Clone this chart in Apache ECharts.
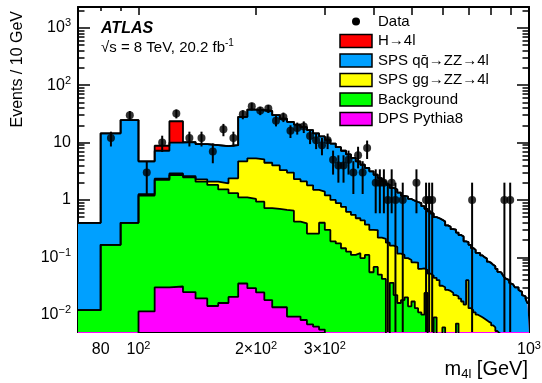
<!DOCTYPE html>
<html>
<head>
<meta charset="utf-8">
<script src="https://cdn.jsdelivr.net/npm/echarts@6/dist/echarts.min.js"></script>
<style>
  html, body { margin: 0; padding: 0; background: #fff; }
  #container { width: 542px; height: 383px; }
</style>
</head>
<body>
<div id="container"></div>
<script>
// m4l histogram, 10 GeV bins from 70 to 1000 GeV
var binStart = 70, binWidth = 10, nBins = 93;

var dps = [
  0, 0, 0, 0.0114, 0.030, 0.031, 0.0248, 0.0192, 0.0142, 0.016,
  0.0204, 0.035, 0.029, 0.0245, 0.018, 0.0135, 0.0135, 0.0093, 0.0093, 0.0081,
  0.0068, 0.0062, 0.0055, 0, 0, 0, 0, 0, 0, 0,
  0, 0, 0, 0, 0, 0, 0, 0, 0, 0,
  0, 0, 0, 0, 0, 0, 0, 0, 0, 0,
  0, 0, 0, 0, 0, 0, 0, 0, 0, 0,
  0, 0, 0, 0, 0, 0, 0, 0, 0, 0,
  0, 0, 0, 0, 0, 0, 0, 0, 0, 0,
  0, 0, 0, 0, 0, 0, 0, 0, 0, 0,
  0, 0, 0
];
var background = [
  0.012, 0.165, 0.40, 1.18, 2.20, 2.69, 2.46, 2.06, 1.81, 1.51,
  1.29, 1.075, 1.01, 0.91, 0.70, 0.687, 0.657, 0.641, 0.411, 0.382,
  0.253, 0.254, 0.395, 0.30, 0.19, 0.175, 0.144, 0.126, 0.11, 0.118,
  0.097, 0.11, 0.055, 0.068, 0.05, 0.042, 0.004, 0.036, 0.022, 0.016,
  0.018, 0.020, 0.014, 0.017, 0.013, 0.011, 0.010, 0.024, 0.003, 0.002,
  0.009, 0.002, 0, 0.006, 0, 0, 0, 0, 0.007, 0,
  0, 0, 0, 0, 0, 0, 0, 0, 0, 0,
  0, 0, 0, 0, 0, 0, 0, 0, 0, 0,
  0, 0, 0, 0, 0, 0, 0, 0, 0, 0,
  0, 0, 0
];
var ggZZ = [
  0, 0, 0, 0.07, 0.12, 0.18, 0.12, 0.21, 0.26, 0.42,
  1.07, 3.59, 4.26, 4.17, 3.73, 3.30, 2.63, 2.35, 1.88, 1.71,
  1.54, 1.24, 1.00, 0.90, 0.81, 0.705, 0.616, 0.494, 0.44, 0.362,
  0.343, 0.26, 0.245, 0.23, 0.17, 0.168, 0.176, 0.124, 0.13, 0.10,
  0.092, 0.077, 0.076, 0.065, 0.068, 0.052, 0.054, 0.036, 0.049, 0.046,
  0.035, 0.038, 0.032, 0.024, 0.027, 0.026, 0.024, 0.022, 0.014, 0.019,
  0.017, 0.015, 0.04, 0.013, 0.012, 0.011, 0.010, 0.0095, 0.009, 0.0085,
  0.008, 0.0075, 0.0072, 0.0065, 0.006, 0.0052, 0.0048, 0.0045, 0.004, 0.0038,
  0.0035, 0.0033, 0.003, 0.003, 0.0028, 0.0027, 0.0025, 0.0024, 0.0022, 0.002,
  0.0019, 0.0018, 0.0016
];
var qqZZ = [
  0.388, 14.3, 24.2, 3.44, 4.85, 7.10, 7.60, 7.11, 6.97, 6.75,
  6.62, 23.4, 32.2, 31.4, 31.0, 26.0, 22.7, 20.0, 18.2, 16.4,
  14.7, 13.0, 11.4, 10.0, 8.6, 7.42, 6.44, 5.58, 4.85, 4.22,
  3.66, 3.23, 2.85, 2.45, 2.18, 1.89, 1.67, 1.46, 1.37, 1.23,
  1.07, 1.04, 0.95, 0.888, 0.839, 0.817, 0.716, 0.64, 0.578, 0.532,
  0.456, 0.44, 0.418, 0.39, 0.333, 0.314, 0.286, 0.283, 0.249, 0.226,
  0.213, 0.175, 0.145, 0.152, 0.133, 0.124, 0.11, 0.1085, 0.099, 0.0915,
  0.087, 0.0765, 0.0728, 0.0675, 0.064, 0.0578, 0.0512, 0.0495, 0.046, 0.0432,
  0.0395, 0.0367, 0.033, 0.031, 0.0292, 0.0273, 0.0275, 0.0246, 0.0228, 0.02,
  0.0191, 0.0172, 0.0144
];
var higgs = [
  0, 0, 0, 0, 1.6, 13.5, 0, 0, 0, 0,
  0, 0, 0, 0, 0, 0, 0, 0, 0, 0,
  0, 0, 0, 0, 0, 0, 0, 0, 0, 0,
  0, 0, 0, 0, 0, 0, 0, 0, 0, 0,
  0, 0, 0, 0, 0, 0, 0, 0, 0, 0,
  0, 0, 0, 0, 0, 0, 0, 0, 0, 0,
  0, 0, 0, 0, 0, 0, 0, 0, 0, 0,
  0, 0, 0, 0, 0, 0, 0, 0, 0, 0,
  0, 0, 0, 0, 0, 0, 0, 0, 0, 0,
  0, 0, 0
];
var dataCounts = [
  0, 12, 30, 3, 10, 32, 12, 12, 7, 17,
  12, 31, 43, 36, 39, 24, 28, 16, 18, 19,
  13, 11, 9, 11, 5, 4, 4, 5, 3, 6,
  3, 8, 0, 2, 2, 2, 1, 2, 1, 0,
  1, 0, 0, 0, 2, 0, 0, 1, 1, 1,
  0, 0, 0, 0, 0, 0, 0, 0, 0, 0,
  0, 0, 0, 0, 1, 0, 0, 0, 0, 0,
  0, 0, 0, 0, 0, 0, 0, 0, 0, 1,
  0, 0, 1, 0, 0, 0, 0, 0, 0, 0,
  0, 0, 0
];

var xTickValues = [80, 100, 200, 300, 1000];
var xTickLabels = ['80', '10^2', '2\u00d710^2', '3\u00d710^2', '10^3'];
var yTickValues = [0.01, 0.1, 1, 10, 100, 1000];
var yTickLabels = ['10^\u22122', '10^\u22121', '1', '10', '10^2', '10^3'];

// stack order bottom -> top, same as the legend read upwards
var stackNames = ['DPS Pythia8', 'Background', 'SPS gg\u2192ZZ\u21924l', 'SPS qq\u0304\u2192ZZ\u21924l', 'H\u21924l'];
var stackColors = ['#ff00ff', '#00ff00', '#ffff00', '#00a0ff', '#ff0000'];
var stackValues = [dps, background, ggZZ, qqZZ, higgs];

var xMin = 70, xMax = 1000, yMin = 0.005, yMax = 2300;
var font = '"Liberation Sans", Arial, Helvetica, sans-serif';

var dom = document.getElementById('container');
var myChart = echarts.init(dom, null, { renderer: 'canvas' });

var binLow = [];
for (var i = 0; i < nBins; i++) binLow.push(binStart + i * binWidth);

// cumulative step outline for the first k+1 components
function stepData(k) {
  var pts = [];
  var last = 0;
  for (var i = 0; i < nBins; i++) {
    var s = 0;
    for (var j = 0; j <= k; j++) s += stackValues[j][i];
    last = Math.max(s, yMin * 0.5);
    pts.push([binLow[i], last]);
  }
  pts.push([binLow[nBins - 1] + binWidth, last]);
  return pts;
}

function supRich(str) {
  return str.replace(/\^(.+)$/, '{s|$1}');
}
function findLabel(vals, labels, v) {
  for (var i = 0; i < vals.length; i++) {
    if (Math.abs(Math.log10(vals[i]) - Math.log10(v)) < 1e-6) return supRich(labels[i]);
  }
  return '';
}

var labelRich = {
  s: { fontSize: 11, fontFamily: font, color: '#000', lineHeight: 10, verticalAlign: 'top' }
};

var xMajor = [100, 200, 300, 400, 500, 600, 700, 800, 900, 1000];
var xMinor = [80, 90];
var yMajor = yTickValues.slice();
var yMinor = [];
for (var d = -3; d <= 3; d++) {
  for (var m = 2; m <= 9; m++) {
    var v = m * Math.pow(10, d);
    if (v > yMin && v < yMax) yMinor.push(+v.toPrecision(3));
  }
}

function xAx(pos, ticks, len, showLine, showLabel) {
  return {
    type: 'log', logBase: 10, min: xMin, max: xMax, position: pos,
    axisLine: { show: showLine, onZero: false, lineStyle: { color: '#000', width: 2 } },
    axisTick: { show: true, inside: true, length: len, customValues: ticks, lineStyle: { color: '#000', width: 1.5 } },
    axisLabel: showLabel ? {
      show: true, customValues: xTickValues, margin: 8, color: '#000',
      fontSize: 16, fontFamily: font, lineHeight: 20, rich: labelRich,
      formatter: function (v) { return findLabel(xTickValues, xTickLabels, v); }
    } : { show: false },
    splitLine: { show: false }, minorTick: { show: false }
  };
}
function yAx(pos, ticks, len, showLine, showLabel) {
  return {
    type: 'log', logBase: 10, min: yMin, max: yMax, position: pos,
    axisLine: { show: showLine, onZero: false, lineStyle: { color: '#000', width: 2 } },
    axisTick: { show: true, inside: true, length: len, customValues: ticks, lineStyle: { color: '#000', width: 1.5 } },
    axisLabel: showLabel ? {
      show: true, customValues: yTickValues, margin: 7, color: '#000',
      fontSize: 16, fontFamily: font, lineHeight: 20, rich: labelRich,
      formatter: function (v) { return findLabel(yTickValues, yTickLabels, v); }
    } : { show: false },
    splitLine: { show: false }, minorTick: { show: false }
  };
}

var series = [];
for (var k = stackValues.length - 1; k >= 0; k--) {
  series.push({
    name: stackNames[k],
    type: 'line',
    step: 'end',
    symbol: 'none',
    data: stepData(k),
    lineStyle: { color: '#000', width: 1.8 },
    areaStyle: { color: stackColors[k], opacity: 1, origin: 'start' },
    clip: true,
    silent: true
  });
}

var dataPoints = [];
for (var i = 0; i < nBins; i++) {
  if (dataCounts[i] > 0) dataPoints.push([binLow[i] + binWidth / 2, dataCounts[i]]);
}

series.push({
  name: 'Data errors',
  type: 'custom',
  data: dataPoints,
  clip: true,
  z: 5,
  renderItem: function (params, api) {
    var x = api.value(0), n = api.value(1), e = Math.sqrt(n);
    var p1 = api.coord([x, n + e]);
    var p2 = api.coord([x, Math.max(n - e, yMin)]);
    return {
      type: 'line',
      shape: { x1: p1[0], y1: p1[1], x2: p2[0], y2: p2[1] },
      style: { stroke: '#000', lineWidth: 2 }
    };
  }
});
series.push({
  name: 'Data',
  type: 'scatter',
  data: dataPoints,
  symbol: 'circle',
  symbolSize: 8,
  itemStyle: { color: '#000' },
  z: 6
});

// legend drawn ROOT-style
var legendTop = 21.5, legendStep = 19.5;
var graphics = [
  { type: 'text', x: 101, y: 29, style: { text: 'ATLAS', fontSize: 16, fontWeight: 'bold', fontStyle: 'italic', fontFamily: font, fill: '#000', verticalAlign: 'middle' } },
  { type: 'text', x: 101, y: 48, style: { text: '\u221as = 8 TeV, 20.2 fb{s|-1}', fontSize: 15, fontFamily: font, fill: '#000', verticalAlign: 'middle', lineHeight: 20,
      rich: { s: { fontSize: 10, fontFamily: font, fill: '#000', lineHeight: 10, verticalAlign: 'top' } } } },
  { type: 'circle', shape: { cx: 356, cy: legendTop, r: 4 }, style: { fill: '#000' } },
  { type: 'text', x: 378, y: legendTop, style: { text: 'Data', fontSize: 15, fontFamily: font, fill: '#000', verticalAlign: 'middle' } },
  { type: 'text', x: 18, y: 11, rotation: Math.PI / 2, style: { text: 'Events / 10 GeV', fontSize: 16, fontFamily: font, fill: '#000', align: 'right', verticalAlign: 'middle' } },
  { type: 'text', x: 528, y: 369, style: { text: 'm{b|4l} [GeV]', fontSize: 20, fontFamily: font, fill: '#000', align: 'right', verticalAlign: 'middle', lineHeight: 24,
      rich: { b: { fontSize: 13, fontFamily: font, fill: '#000', lineHeight: 13, verticalAlign: 'bottom' } } } }
];
for (var k = stackValues.length - 1; k >= 0; k--) {
  var row = stackValues.length - k;
  var cy = legendTop + row * legendStep;
  graphics.push({ type: 'rect', shape: { x: 340, y: cy - 6.5, width: 32, height: 13 }, style: { fill: stackColors[k], stroke: '#000', lineWidth: 1.5 } });
  graphics.push({ type: 'text', x: 378, y: cy, style: { text: stackNames[k], fontSize: 15, fontFamily: font, fill: '#000', verticalAlign: 'middle' } });
}

var option = {
  animation: false,
  backgroundColor: '#fff',
  grid: { left: 78, right: 13, top: 7, bottom: 51, containLabel: false, outerBoundsMode: 'none' },
  xAxis: [
    xAx('bottom', xMajor, 8, true, true),
    xAx('bottom', xMinor, 4, false, false),
    xAx('top', xMajor, 8, true, false),
    xAx('top', xMinor, 4, false, false)
  ],
  yAxis: [
    yAx('left', yMajor, 12, true, true),
    yAx('left', yMinor, 6.5, false, false),
    yAx('right', yMajor, 12, true, false),
    yAx('right', yMinor, 6.5, false, false)
  ],
  graphic: graphics,
  series: series
};

myChart.setOption(option);
window.addEventListener('resize', myChart.resize);
</script>
</body>
</html>
